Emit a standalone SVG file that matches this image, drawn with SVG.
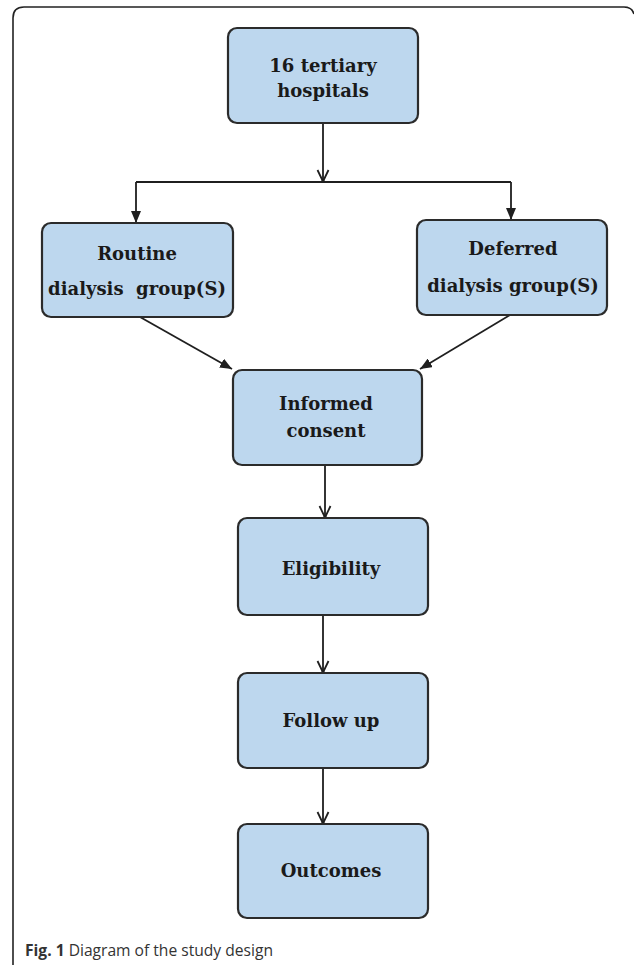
<svg xmlns="http://www.w3.org/2000/svg" width="634" height="965" viewBox="0 0 634 965">
<style>
.box{fill:#bdd7ee;stroke:#2b2b2b;stroke-width:2.2}
.t{font-family:"DejaVu Serif",serif;font-weight:bold;font-size:18px;fill:#1a1a1a;text-anchor:middle}
.c{fill:none;stroke:#1f1f1f;stroke-width:1.8}
.frame{fill:none;stroke:#222;stroke-width:1.6}
.cap{font-family:"Open Sans",sans-serif;font-size:16.5px;fill:#333}
</style>
<defs>
<marker id="tri" markerUnits="userSpaceOnUse" viewBox="0 0 12 10" refX="12" refY="5" markerWidth="12" markerHeight="10" orient="auto">
<path d="M0,0 L12,5 L0,10 Z" fill="#1f1f1f"/>
</marker>
<marker id="vee" markerUnits="userSpaceOnUse" viewBox="0 0 14 14" refX="13" refY="7" markerWidth="14" markerHeight="14" orient="auto">
<path d="M1,1.5 L12.5,7 L1,12.5" fill="none" stroke="#1f1f1f" stroke-width="1.8"/>
<circle cx="12" cy="7" r="1.6" fill="#1f1f1f"/>
</marker>
</defs>
<path class="frame" d="M13,965 L13,18 Q13,7 24,7 L624,7 Q632,7 634,14"/>
<g id="connectors">
<path class="c" d="M323,123 L323,182" marker-end="url(#vee)"/>
<path class="c" d="M136,182 L511,182"/>
<path class="c" d="M136,182 L136,223" marker-end="url(#tri)"/>
<path class="c" d="M511,182 L511,220" marker-end="url(#tri)"/>
<path class="c" d="M140,317 L232,369" marker-end="url(#tri)"/>
<path class="c" d="M510,315 L420,369" marker-end="url(#tri)"/>
<path class="c" d="M325,465 L325,518" marker-end="url(#vee)"/>
<path class="c" d="M323,615 L323,673" marker-end="url(#vee)"/>
<path class="c" d="M323,768 L323,824" marker-end="url(#vee)"/>
</g>
<g id="hospitals">
<rect class="box" x="228" y="28" width="190" height="95" rx="9"/>
<text class="t" x="323" y="72">16 tertiary</text>
<text class="t" x="323" y="97">hospitals</text>
</g>
<g id="routine">
<rect class="box" x="42" y="223" width="191" height="94" rx="9"/>
<text class="t" x="137" y="260">Routine</text>
<text class="t" x="137" y="295" xml:space="preserve">dialysis  group(S)</text>
</g>
<g id="deferred">
<rect class="box" x="417" y="220" width="190" height="95" rx="9"/>
<text class="t" x="513" y="255">Deferred</text>
<text class="t" x="513" y="292">dialysis group(S)</text>
</g>
<g id="consent">
<rect class="box" x="233" y="370" width="189" height="95" rx="9"/>
<text class="t" x="326" y="410">Informed</text>
<text class="t" x="326" y="437">consent</text>
</g>
<g id="eligibility">
<rect class="box" x="238" y="518" width="190" height="97" rx="9"/>
<text class="t" x="331" y="575">Eligibility</text>
</g>
<g id="followup">
<rect class="box" x="238" y="673" width="190" height="95" rx="9"/>
<text class="t" x="331" y="727">Follow up</text>
</g>
<g id="outcomes">
<rect class="box" x="238" y="824" width="190" height="94" rx="9"/>
<text class="t" x="331" y="877">Outcomes</text>
</g>
<text class="cap" x="25" y="956" textLength="248" lengthAdjust="spacingAndGlyphs"><tspan font-weight="bold">Fig. 1</tspan> Diagram of the study design</text>
</svg>
